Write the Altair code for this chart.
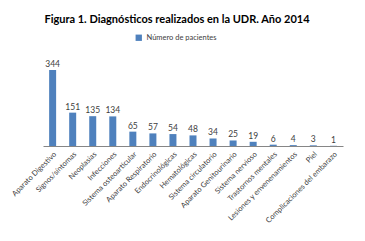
import altair as alt
import pandas as pd

categorias = ["Aparato Digestivo", "Signos/síntomas", "Neoplasias", "Infecciones",
              "Sistema osteoarticular", "Aparato Respiratorio", "Endocrinológicas",
              "Hematológicas", "Sistema circulatorio", "Aparato Genitourinario",
              "Sistema nervioso", "Trastornos mentales", "Lesiones y envenenamientos",
              "Piel", "Complicaciones del embarazo"]
pacientes = [344, 151, 135, 134, 65, 57, 54, 48, 34, 25, 19, 6, 4, 3, 1]
serie = "Número de pacientes"

df = pd.DataFrame({"cat": categorias, "val": pacientes, "serie": [serie] * len(categorias)})

FONT = "Lato"

base = alt.Chart(df).encode(
    x=alt.X("cat:N", sort=categorias, title=None,
            scale=alt.Scale(paddingInner=0.64, paddingOuter=0.3),
            axis=alt.Axis(labelAngle=-45, labelFont=FONT, labelFontSize=7.5,
                          labelColor="#404040", domainColor="#868686", ticks=False,
                          labelPadding=4, labelOverlap=False, labelLimit=200)),
    y=alt.Y("val:Q", title=None, scale=alt.Scale(domain=[0, 344], nice=False),
            axis=None),
)

bars = base.mark_bar(size=7).encode(
    color=alt.Color("serie:N", scale=alt.Scale(range=["#4F81BD"]), title=None,
                    legend=alt.Legend(orient="none", legendX=92, legendY=-36,
                                      symbolType="square", symbolSize=40,
                                      labelFont=FONT, labelFontSize=7.5,
                                      labelColor="#404040", symbolStrokeWidth=0))
)

labels = base.mark_text(dy=-6, font=FONT, fontSize=8.5, color="#404040").encode(
    text="val:Q"
)

chart = (bars + labels).properties(
    width=300, height=76,
    background="white",
    title=alt.TitleParams("Figura 1. Diagnósticos realizados en la UDR. Año 2014",
                          font=FONT, fontSize=11, fontWeight="bold", color="#000000",
                          anchor="middle", offset=9, dx=-16),
    autosize=alt.AutoSizeParams(type="none"),
    padding={"left": 35, "top": 62, "right": 14, "bottom": 87},
).configure_view(stroke=None)

chart.save("out.html", embed_options={"renderer": "svg", "actions": False})
